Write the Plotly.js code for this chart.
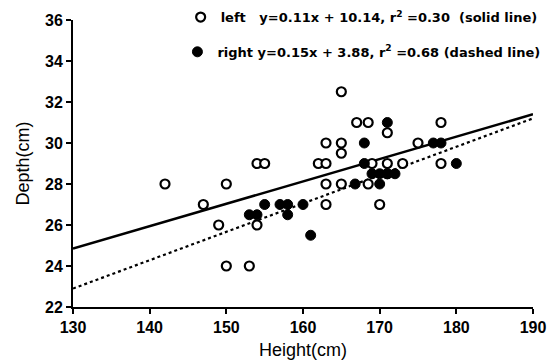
<!DOCTYPE html>
<html>
<head>
<meta charset="utf-8">
<script src="https://cdn.plot.ly/plotly-3.0.1.min.js"></script>
<style>html,body{margin:0;padding:0;background:#fff;}#chart{width:559px;height:362px;}</style>
</head>
<body>
<div id="chart"></div>
<script>
// Left side (open circles)
const leftHeight = [142,147,149,150,150,153,154,154,155,162,163,163,165,165,165,167,168.5,171,178,175,178,173,169,171,163,165,168.5,163,170,171];
const leftDepth  = [28, 27, 26, 28, 24, 24, 26, 29, 29, 29, 29, 30, 30, 29.5,32.5,31,31, 30.5,31, 30, 29, 29, 29, 29, 28, 28, 28, 27, 27, 28.5];
// Right side (filled circles)
const rightHeight = [153,154,155,157,158,160,158,161,166.8,170,168,169,170,171,172,168,171,177,178,180];
const rightDepth  = [26.5,26.5,27,27,27,27,26.5,25.5,28,28,29,28.5,28.5,28.5,28.5,30,31,30,30,29];
// Fitted lines as drawn (end points)
const fitX = [130, 190];
const solidFitY = [24.85, 31.4];
const dashedFitY = [22.9, 31.2];
const leftLabel = "left   y=0.11x + 10.14, r<sup>2</sup> =0.30  (solid line)";
const rightLabel = "right y=0.15x + 3.88, r<sup>2</sup> =0.68 (dashed line)";

const traces = [
  {x: fitX, y: solidFitY, mode: 'lines', line: {color: '#000', width: 2.5}, showlegend: false, hoverinfo: 'skip'},
  {x: fitX, y: dashedFitY, mode: 'lines', line: {color: '#000', width: 2.2, dash: 'dot'}, showlegend: false, hoverinfo: 'skip'},
  {x: leftHeight, y: leftDepth, mode: 'markers', name: leftLabel, legend: 'legend',
   marker: {symbol: 'circle', size: 9, color: '#fff', line: {color: '#000', width: 2.2}}},
  {x: rightHeight, y: rightDepth, mode: 'markers', name: rightLabel, legend: 'legend2',
   marker: {symbol: 'circle', size: 10, color: '#000', line: {color: '#000', width: 1}}}
];

const tickFont = {family: 'Liberation Sans', size: 16, color: '#000', weight: 700};
const legFont = {family: 'DejaVu Sans', size: 13, color: '#000', weight: 700};

const layout = {
  width: 559, height: 362,
  margin: {l: 73, r: 26, t: 20, b: 55, autoexpand: false},
  paper_bgcolor: '#fff', plot_bgcolor: '#fff',
  showlegend: true,
  xaxis: {
    range: [130, 190], tickvals: [130,140,150,160,170,180,190],
    showgrid: false, zeroline: false, showline: true, linecolor: '#000', linewidth: 2,
    ticks: 'outside', ticklen: 5, tickwidth: 2, tickcolor: '#000',
    tickfont: tickFont,
    title: {text: 'Height(cm)', font: {family: 'Liberation Sans', size: 18, color: '#000'}, standoff: 8}
  },
  yaxis: {
    range: [22, 36], tickvals: [22,24,26,28,30,32,34,36],
    showgrid: false, zeroline: false, showline: true, linecolor: '#000', linewidth: 2,
    ticks: 'outside', ticklen: 5, tickwidth: 2, tickcolor: '#000',
    tickfont: tickFont,
    title: {text: 'Depth(cm)', font: {family: 'Liberation Sans', size: 18, color: '#000'}, standoff: 11}
  },
  legend: {x: 0.234, y: 1.01, xanchor: 'left', yanchor: 'middle', bgcolor: 'rgba(0,0,0,0)', font: legFont, itemwidth: 30},
  legend2: {x: 0.227, y: 0.889, xanchor: 'left', yanchor: 'middle', bgcolor: 'rgba(0,0,0,0)', font: legFont, itemwidth: 30}
};

Plotly.newPlot('chart', traces, layout, {displayModeBar: false, staticPlot: true});
</script>
</body>
</html>
